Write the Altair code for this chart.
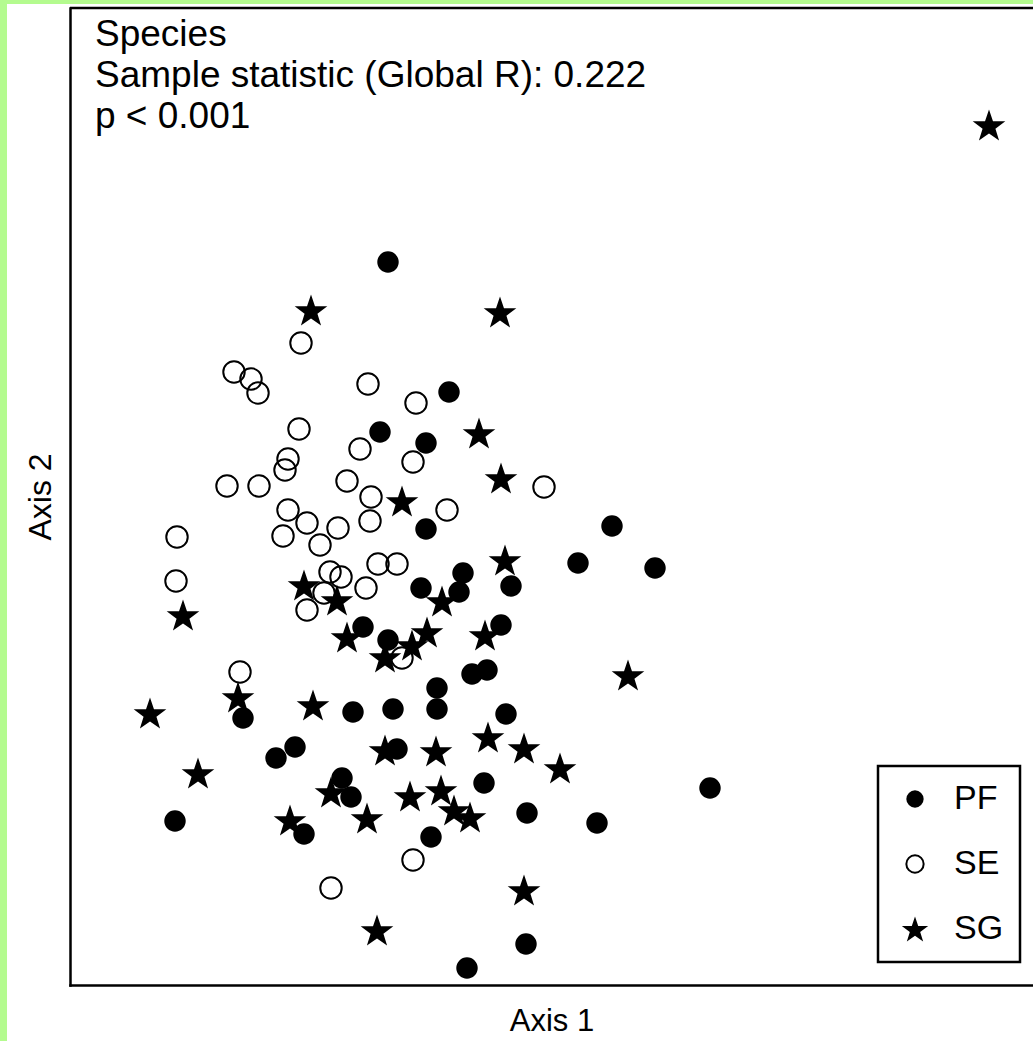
import math
import altair as alt
import pandas as pd

# ---- data (arbitrary ordination units) ----
groups = ["PF", "SE", "SG"]

pf_x = [318, 379, 310, 356, 356, 542, 508, 585, 351, 393, 389, 441, 293, 318, 431, 367, 402, 417,
        173, 283, 323, 367, 436, 206, 225, 327, 272, 281, 414, 640, 105, 234, 361, 457, 527, 456, 397]
pf_y = [723, 593, 553, 542, 456, 459, 422, 417, 397, 412, 393, 399, 358, 345, 360, 297, 311, 315,
        267, 273, 276, 276, 271, 227, 238, 236, 207, 188, 202, 197, 164, 151, 148, 172, 162, 41, 17]

se_x = [231, 164, 181, 188, 298, 346, 229, 290, 218, 215, 343, 157, 189, 277, 301, 377, 474, 218,
        237, 268, 300, 107, 213, 250, 260, 271, 254, 296, 308, 327, 237, 106, 332, 170, 343, 261]
se_y = [642, 613, 606, 592, 601, 582, 556, 536, 526, 515, 523, 499, 499, 504, 488, 475, 498, 475,
        462, 457, 464, 448, 449, 440, 413, 408, 392, 397, 421, 421, 375, 404, 327, 313, 125, 97]

sg_x = [919, 241, 430, 409, 431, 332, 435, 113, 234, 267, 372, 277, 315, 342, 357, 415, 558, 80,
        168, 243, 315, 366, 418, 454, 490, 128, 220, 261, 297, 340, 371, 384, 400, 454, 307]
sg_y = [860, 675, 673, 552, 507, 484, 425, 370, 400, 385, 384, 348, 328, 340, 353, 350, 310, 272,
        288, 280, 235, 234, 248, 237, 217, 212, 165, 193, 167, 189, 195, 175, 168, 95, 55]

title_lines = ["Species", "Sample statistic (Global R): 0.222", "p < 0.001"]
x_title = "Axis 1"
y_title = "Axis 2"

rows = []
for g, xs, ys in zip(groups, [pf_x, se_x, sg_x], [pf_y, se_y, sg_y]):
    for a, b in zip(xs, ys):
        rows.append({"group": g, "x": a, "y": b})
df = pd.DataFrame(rows)

# ---- styling ----
FONT = "Liberation Sans"
GREEN = "#b4fb8f"
W, H = 963, 977

# five-pointed star path (unit coordinates, scaled by Vega)
R_out, R_in = 1.6, 0.63
shift = 0.0955 * R_out
pts = []
for k in range(10):
    ang = math.radians(-90 + 36 * k)
    r = R_out if k % 2 == 0 else R_in
    pts.append((r * math.cos(ang), r * math.sin(ang) + shift))
STAR = "M" + "L".join(f"{px:.4f},{py:.4f}" for px, py in pts) + "Z"

legend = alt.Legend(
    title=None, orient="none", legendX=808, legendY=758,
    padding=16, strokeColor="black", fillColor="white",
    symbolSize=300, symbolStrokeWidth=2, symbolOffset=4,
    labelFont=FONT, labelFontSize=34, labelColor="black", labelOffset=22,
    rowPadding=31, labelExpr="datum.label + '          '", labelLimit=400,
)

axis_common = dict(labels=False, ticks=False, grid=False, domain=True,
                   domainColor="black", domainWidth=2.5, domainCap="square",
                   titleFont=FONT, titleFontWeight="normal",
                   titleColor="black", titleBaseline="alphabetic", zindex=1)

points = alt.Chart(df).mark_point(size=460, opacity=1, strokeWidth=2).encode(
    x=alt.X("x:Q", scale=alt.Scale(domain=[0, W]),
            axis=alt.Axis(title=x_title, titlePadding=45, titleFontSize=31, **axis_common)),
    y=alt.Y("y:Q", scale=alt.Scale(domain=[0, H]),
            axis=alt.Axis(title=y_title, titlePadding=20, titleFontSize=32, **axis_common)),
    shape=alt.Shape("group:N", scale=alt.Scale(domain=groups, range=["circle", "circle", STAR]),
                    legend=legend),
    fill=alt.Fill("group:N", scale=alt.Scale(domain=groups, range=["black", "transparent", "black"]),
                  legend=legend),
    stroke=alt.Stroke("group:N", scale=alt.Scale(domain=groups, range=["transparent", "black", "transparent"]),
                      legend=legend),
)

one = pd.DataFrame({"k": [0]})

frame_top = alt.Chart(one).mark_rule(color="black", strokeWidth=2.5).encode(y=alt.value(0))

band_left = alt.Chart(one).mark_rect(color=GREEN).encode(
    x=alt.value(-70), x2=alt.value(-63), y=alt.value(-8), y2=alt.value(H + 56))
band_top = alt.Chart(one).mark_rect(color=GREEN).encode(
    x=alt.value(-70), x2=alt.value(W), y=alt.value(-8), y2=alt.value(-4))

text = alt.Chart(one).mark_text(
    text=title_lines, align="left", baseline="alphabetic", font=FONT,
    fontSize=37, lineHeight=41, color="black",
).encode(x=alt.value(25), y=alt.value(38))

chart = alt.layer(band_left, band_top, frame_top, points, text).properties(
    width=W, height=H,
    padding={"left": 70, "top": 8, "right": 0, "bottom": 56},
    autosize="none", background="white",
).configure_view(stroke="transparent").configure_legend(strokeWidth=2.5)

chart.save("out.html", embed_options={"renderer": "svg", "actions": False})
